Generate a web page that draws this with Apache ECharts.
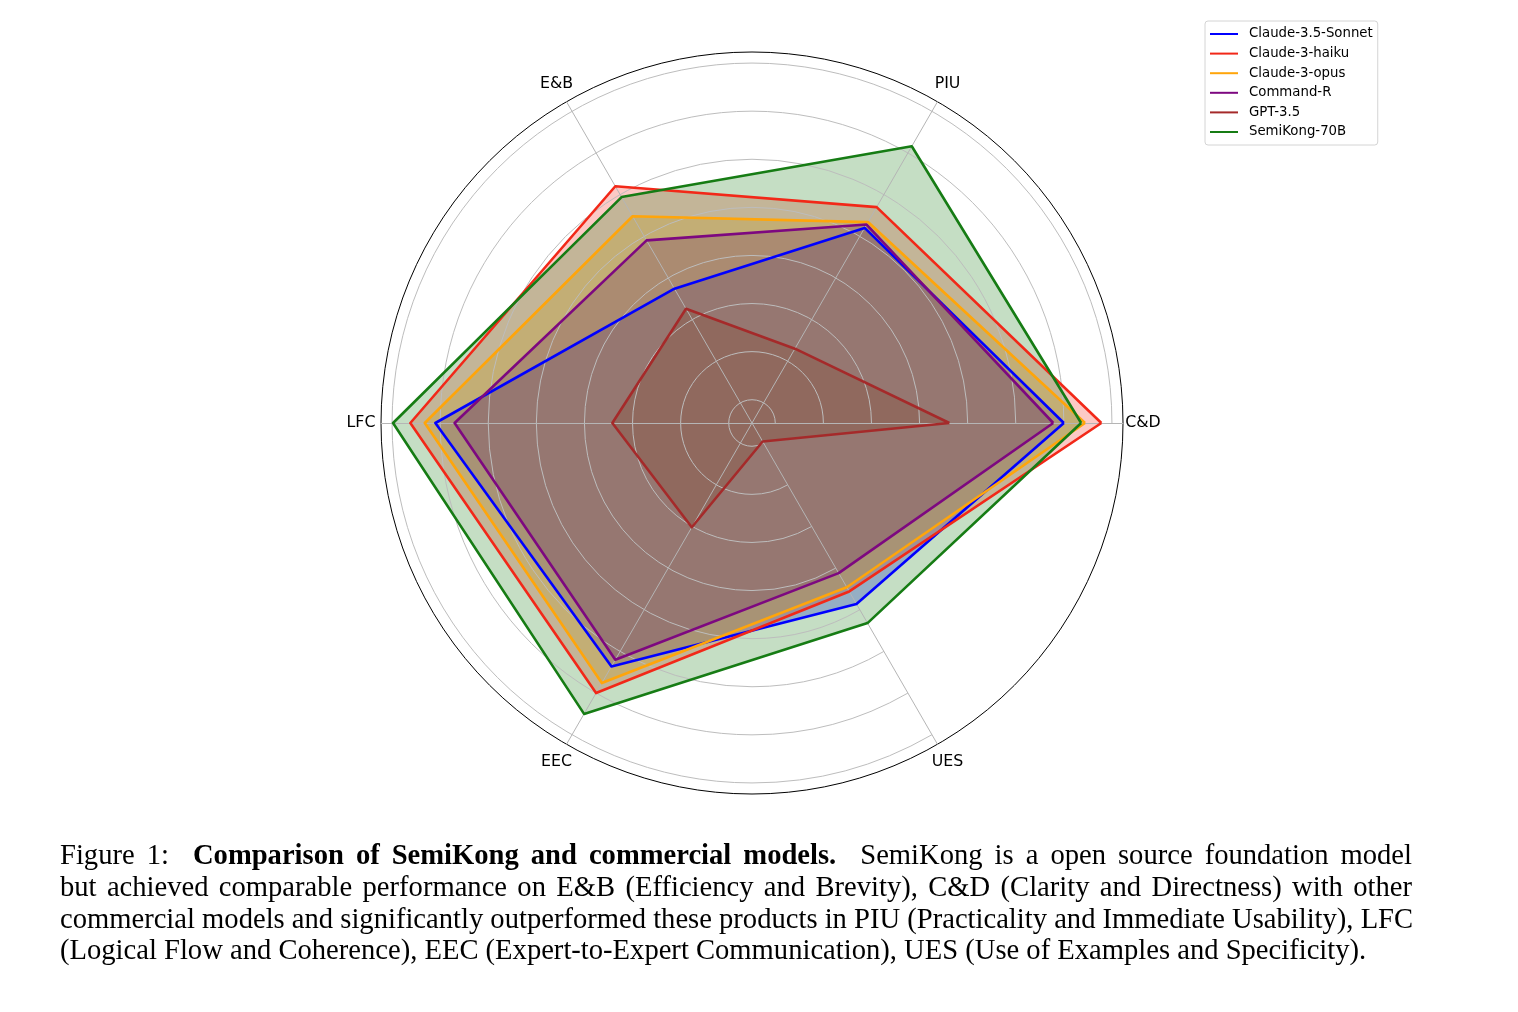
<!DOCTYPE html>
<html>
<head>
<meta charset="utf-8">
<script src="https://cdn.jsdelivr.net/npm/echarts@6/dist/echarts.min.js"></script>
<style>
  html, body { margin: 0; padding: 0; background: #fff; }
  #chart { width: 1518px; height: 1012px; }
  .caption {
    position: absolute;
    left: 60px;
    top: 839px;
    width: 1352px;
    font-family: "Liberation Serif", serif;
    font-size: 28.6px;
    line-height: 31.8px;
    color: #000;
  }
  .caption .row { text-align: justify; text-align-last: justify; white-space: nowrap; }
  .caption .row.last { text-align: left; text-align-last: left; }
</style>
</head>
<body>
<div id="chart"></div>
<div class="caption">
  <div class="row">Figure 1:&nbsp; <b>Comparison of SemiKong and commercial models.</b>&nbsp; SemiKong is a open source foundation model</div>
  <div class="row">but achieved comparable performance on E&amp;B (Efficiency and Brevity), C&amp;D (Clarity and Directness) with other</div>
  <div class="row">commercial models and significantly outperformed these products in PIU (Practicality and Immediate Usability), LFC</div>
  <div class="row last">(Logical Flow and Coherence), EEC (Expert-to-Expert Communication), UES (Use of Examples and Specificity).</div>
</div>
<script>
// 各维度（逆时针，从右侧开始）
const categories = ['C&D', 'PIU', 'E&B', 'LFC', 'EEC', 'UES'];

// 模型得分（按 categories 顺序）
const modelNames = ['Claude-3.5-Sonnet', 'Claude-3-haiku', 'Claude-3-opus', 'Command-R', 'GPT-3.5', 'SemiKong-70B'];
const sonnetScores = [4.00, 3.10, 2.37, 4.05, 3.68, 2.93];
const haikuScores = [4.39, 3.35, 3.60, 4.31, 4.00, 2.78];
const opusScores = [4.22, 3.17, 3.24, 4.16, 3.88, 2.73];
const commandRScores = [3.89, 3.14, 2.95, 3.85, 3.60, 2.56];
const gptScores = [2.81, 1.65, 2.13, 2.21, 2.01, 0.98];
const semiKongScores = [4.18, 4.08, 3.47, 4.49, 4.25, 3.16];

// 径向网格刻度
const gridTicks = [1.0, 1.5, 2.0, 2.5, 3.0, 3.5, 4.0, 4.5];

const colors = ['#0000ff', '#f22818', '#ffa50a', '#7d0880', '#a52a2a', '#167c14'];
const allScores = [sonnetScores, haikuScores, opusScores, commandRScores, gptScores, semiKongScores];

const rMin = 0.758;
const rMax = 4.615;
const center = [752, 423];
const outerR = 371;
const pxPerUnit = outerR / (rMax - rMin);
const gridOuter = (gridTicks[gridTicks.length - 1] - rMin) * pxPerUnit;
const labelR = 391;

const chartInstance = echarts.init(document.getElementById('chart'));

// 线条系列（在上层）
const lineSeries = modelNames.map((name, i) => {
  return {
    type: 'radar',
    z: 4,
    symbol: 'none',
    silent: true,
    lineStyle: { color: colors[i], width: 2.6 },
    itemStyle: { color: colors[i] },
    data: [{ name: name, value: allScores[i] }]
  };
});

// 填充系列（在网格下层）
const fillSeries = modelNames.map((name, i) => {
  return {
    type: 'radar',
    z: 1,
    symbol: 'none',
    silent: true,
    lineStyle: { width: 0, opacity: 0 },
    areaStyle: { color: colors[i], opacity: 0.25 },
    data: [{ name: '', value: allScores[i] }]
  };
});

const option = {
  animation: false,
  backgroundColor: '#fff',
  legend: {
    orient: 'vertical',
    left: 1205,
    top: 21,
    padding: [6, 5, 6, 5],
    itemWidth: 28,
    itemHeight: 2,
    itemGap: 5.6,
    icon: 'rect',
    borderColor: '#d4d4d4',
    borderWidth: 1,
    borderRadius: 3,
    data: modelNames,
    textStyle: {
      fontFamily: 'DejaVu Sans',
      fontSize: 13.3,
      lineHeight: 14,
      color: '#000',
      padding: [0, 0, 0, 6]
    }
  },
  radar: {
    center: center,
    radius: outerR,
    startAngle: 0,
    shape: 'circle',
    splitNumber: 1,
    z: 2,
    indicator: categories.map(c => ({ name: c, min: rMin, max: rMax })),
    axisName: { show: false },
    splitArea: { show: false },
    splitLine: { lineStyle: { color: '#000', width: 1 } },
    axisLine: { lineStyle: { color: '#b5b5b5', width: 1 } },
    axisTick: { show: false },
    axisLabel: { show: false }
  },
  polar: {
    center: center,
    radius: [(gridTicks[0] - rMin) * pxPerUnit, gridOuter]
  },
  angleAxis: {
    type: 'category',
    data: categories,
    boundaryGap: false,
    startAngle: 0,
    clockwise: false,
    z: 2,
    axisLine: { show: false },
    axisTick: { show: false },
    splitLine: { show: false },
    axisLabel: { show: false }
  },
  radiusAxis: {
    type: 'value',
    min: gridTicks[0],
    max: gridTicks[gridTicks.length - 1],
    interval: 0.5,
    z: 2,
    axisLine: { show: false },
    axisTick: { show: false },
    axisLabel: { show: false },
    splitLine: { show: true, lineStyle: { color: '#bdbdbd', width: 1 } }
  },
  series: lineSeries.concat(fillSeries)
};

chartInstance.setOption(option);

// 维度名称：放在外圈之外，居中对齐
const labelValue = rMin + labelR / pxPerUnit;
const labelElements = categories.map((name, i) => {
  const pt = chartInstance.convertToPixel({ polarIndex: 0 }, [labelValue, i]);
  return {
    type: 'text',
    x: pt[0],
    y: pt[1],
    silent: true,
    style: {
      text: name,
      fill: '#000',
      font: '15.8px "DejaVu Sans"',
      align: 'center',
      verticalAlign: 'middle',
      textAlign: 'center',
      textVerticalAlign: 'middle'
    }
  };
});
chartInstance.setOption({ graphic: labelElements });
</script>
</body>
</html>
